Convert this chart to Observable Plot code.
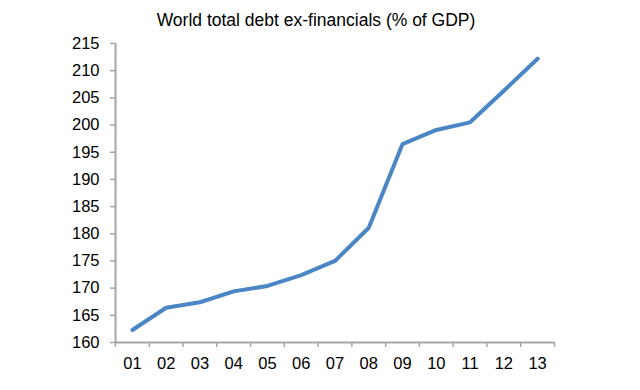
<!DOCTYPE html>
<html>
<head>
<meta charset="utf-8">
<script src="https://cdn.jsdelivr.net/npm/d3@7"></script>
<script src="https://cdn.jsdelivr.net/npm/@observablehq/plot@0.6"></script>
<style>
  html, body { margin: 0; padding: 0; background: #fff; }
  body { width: 640px; height: 390px; position: relative; font-family: "Liberation Sans", Arial, sans-serif; }
  #title { position: absolute; top: 10px; left: 0; width: 632px; text-align: center; font-size: 17.5px; line-height: 20px; color: #000; }
  #chart { position: absolute; top: 0; left: 0; }
</style>
</head>
<body>
<div id="title">World total debt ex-financials (% of GDP)</div>
<div id="chart"></div>
<script>
const years = [1, 2, 3, 4, 5, 6, 7, 8, 9, 10, 11, 12, 13];
const yearLabels = ["01", "02", "03", "04", "05", "06", "07", "08", "09", "10", "11", "12", "13"];
const debt = [162.3, 166.4, 167.4, 169.4, 170.4, 172.4, 175.0, 181.1, 196.5, 199.1, 200.5, 206.3, 212.2];
const yTicks = [160, 165, 170, 175, 180, 185, 190, 195, 200, 205, 210, 215];

const data = years.map((x, i) => ({x, y: debt[i]}));
const boundaries = [...years.map(d => d - 0.5), years[years.length - 1] + 0.5];
const axisColor = "#a6a6a6";

const chart = Plot.plot({
  width: 640,
  height: 390,
  marginLeft: 115,
  marginRight: 86,
  marginTop: 43,
  marginBottom: 48,
  style: {fontFamily: "'Liberation Sans', Arial, sans-serif", fontSize: "16px", background: "transparent"},
  x: {type: "linear", domain: [0.5, 13.5], axis: null},
  y: {domain: [160, 215], axis: null},
  marks: [
    Plot.axisY(yTicks, {tickSize: 5, tickPadding: 11, stroke: axisColor, strokeWidth: 1.5, fill: "#000", strokeOpacity: 1, fontSize: 16.5, label: null}),
    Plot.axisX(boundaries, {tickSize: 5, tickFormat: () => "", stroke: axisColor, strokeWidth: 1.5, strokeOpacity: 1, label: null}),
    Plot.axisX(years, {tickSize: 0, tickPadding: 15, tickFormat: d => yearLabels[years.indexOf(d)], fill: "#000", fontSize: 16.5, label: null}),
    Plot.ruleX([0.5], {stroke: axisColor, strokeWidth: 2}),
    Plot.ruleY([160], {stroke: axisColor, strokeWidth: 2}),
    Plot.lineY(data, {x: "x", y: "y", stroke: "#4a86c5", strokeWidth: 4, strokeLinecap: "round", strokeLinejoin: "round"})
  ]
});
document.getElementById("chart").appendChild(chart);
</script>
</body>
</html>
